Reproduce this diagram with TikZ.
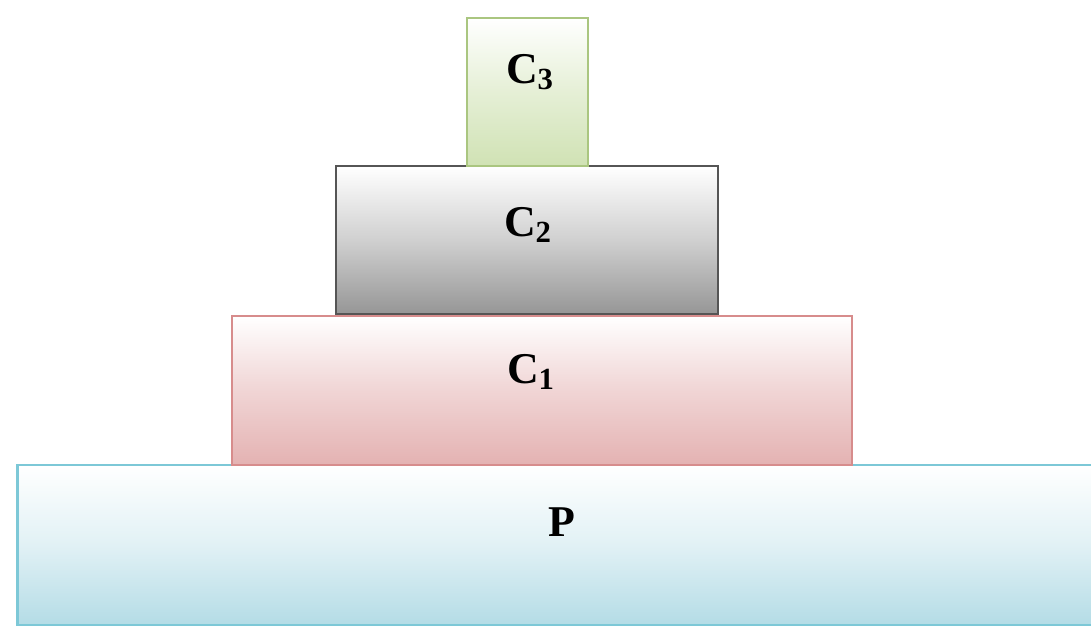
\documentclass[tikz,border=0pt]{standalone}
\usepackage{fontspec}
\setmainfont{Liberation Serif}
\usepackage{xcolor}
\usepackage{tikz}
\usetikzlibrary{positioning,calc}
\definecolor{pblue}{RGB}{180,220,230}
\definecolor{pline}{RGB}{125,200,215}
\definecolor{cpink}{RGB}{228,178,178}
\definecolor{cpinkline}{RGB}{215,140,140}
\definecolor{cgray}{RGB}{150,150,150}
\definecolor{cgrayline}{RGB}{85,85,85}
\definecolor{cgreen}{RGB}{208,226,180}
\definecolor{cgreenline}{RGB}{170,198,128}
\tikzset{
  layer/.style  = {rectangle, line width=1.4pt, inner sep=0pt},
  lbl/.style    = {font=\fontsize{25}{29}\selectfont\bfseries, inner sep=0pt},
}

\begin{document}
\begin{tikzpicture}[x=0.02cm, y=-0.02cm]
  % stacked layers, bottom to top
  \node[layer, draw=pline, top color=white, bottom color=pblue, middle color=pblue!40,
        minimum width=21.7cm, minimum height=3.2cm] (p) at (560,545) {};
  \node[layer, draw=cpinkline, top color=white, bottom color=cpink, middle color=cpink!55,
        minimum width=12.4cm, minimum height=2.98cm] (c1) at (542,390.5) {};
  \node[layer, draw=cgrayline, top color=white, bottom color=cgray, middle color=cgray!45,
        minimum width=7.64cm, minimum height=2.96cm] (c2) at (527,240) {};
  \node[layer, draw=cgreenline, top color=white, bottom color=cgreen, middle color=cgreen!55,
        minimum width=2.42cm, minimum height=2.96cm] (c3) at (527.5,92) {};
  % labels
  \node[lbl] (lp)  at (562,522) {P};
  \node[lbl] (lc1) at (531,372) {C\textsubscript{1}};
  \node[lbl] (lc2) at (528,225) {C\textsubscript{2}};
  \node[lbl] (lc3) at (530,72)  {C\textsubscript{3}};
  \pgfresetboundingbox
  \useasboundingbox (0,0) rectangle (1091,626);
\end{tikzpicture}
\end{document}
